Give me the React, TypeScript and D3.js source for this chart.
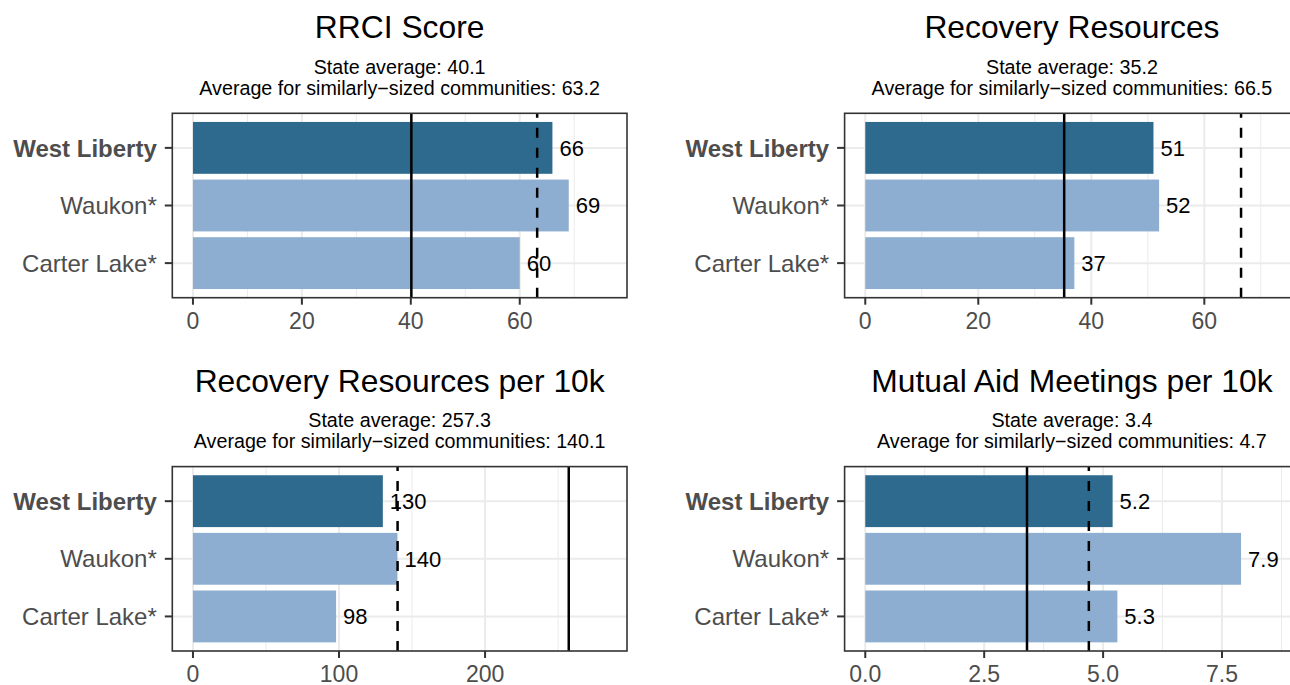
import React, { useEffect, useRef } from 'react';
import * as d3 from 'd3';

const communities = ['West Liberty', 'Waukon*', 'Carter Lake*'];
const highlighted = 'West Liberty';

const panelTitles = ['RRCI Score', 'Recovery Resources', 'Recovery Resources per 10k', 'Mutual Aid Meetings per 10k'];
const rrciScore = [66, 69, 60];
const recoveryResources = [51, 52, 37];
const resourcesPer10k = [130, 140, 98];
const meetingsPer10k = [5.2, 7.9, 5.3];
const stateAverage = [40.1, 35.2, 257.3, 3.4];
const similarAverage = [63.2, 66.5, 140.1, 4.7];
const tickValues = [[0, 20, 40, 60], [0, 20, 40, 60], [0, 100, 200], [0, 2.5, 5, 7.5]];
const tickLabels = [['0', '20', '40', '60'], ['0', '20', '40', '60'], ['0', '100', '200'], ['0.0', '2.5', '5.0', '7.5']];

const panelValues = [rrciScore, recoveryResources, resourcesPer10k, meetingsPer10k];

function App() {
    const chartRef = useRef(null);

    useEffect(() => {
        const width = 1290;
        const height = 685;
        const font = '"Liberation Sans", Arial, Helvetica, sans-serif';

        const svg = d3.select(chartRef.current)
            .append('svg')
            .attr('width', width)
            .attr('height', height)
            .style('display', 'block')
            .style('font-family', font);

        svg.append('rect').attr('width', width).attr('height', height).attr('fill', '#fff');

        // panel box in the top-left cell; other cells are shifted copies
        const boxLeft = 172.3, boxRight = 627, boxTop = 113.3, boxBottom = 297.7;
        const colShift = 672.3, rowShift = 353.3;

        panelValues.forEach((values, i) => {
            const dx = (i % 2) * colShift;
            const dy = Math.floor(i / 2) * rowShift;
            const g = svg.append('g').attr('transform', `translate(${dx}, ${dy})`);

            const limit = Math.max(...values, stateAverage[i], similarAverage[i]) * 1.1;
            const x = d3.scaleLinear()
                .domain([-0.05 * limit, 1.05 * limit])
                .range([boxLeft, boxRight]);
            const y = d3.scaleBand()
                .domain(communities)
                .range([boxTop, boxBottom])
                .paddingInner(0.1)
                .paddingOuter(0.15);

            const cx = (boxLeft + boxRight) / 2;
            g.append('text')
                .attr('x', cx).attr('y', 38.3)
                .attr('text-anchor', 'middle')
                .attr('font-size', 31.8)
                .attr('fill', '#000')
                .text(panelTitles[i]);
            g.append('text')
                .attr('x', cx).attr('y', 73.7)
                .attr('text-anchor', 'middle')
                .attr('font-size', 19.7)
                .text(`State average: ${stateAverage[i]}`);
            g.append('text')
                .attr('x', cx).attr('y', 95.2)
                .attr('text-anchor', 'middle')
                .attr('font-size', 19.7)
                .text(`Average for similarly\u2212sized communities: ${similarAverage[i]}`);

            const clipId = `clip-${i}`;
            g.append('clipPath').attr('id', clipId)
                .append('rect')
                .attr('x', boxLeft).attr('y', boxTop)
                .attr('width', boxRight - boxLeft).attr('height', boxBottom - boxTop);
            const plot = g.append('g').attr('clip-path', `url(#${clipId})`);

            // grid
            const ticks = tickValues[i];
            const step = ticks[1] - ticks[0];
            const minor: number[] = [];
            for (let v = ticks[0] - step / 2; v <= x.domain()[1]; v += step) {
                if (v >= x.domain()[0]) minor.push(v);
            }
            plot.selectAll('.minor').data(minor).enter().append('line')
                .attr('x1', d => x(d)).attr('x2', d => x(d))
                .attr('y1', boxTop).attr('y2', boxBottom)
                .attr('stroke', '#EBEBEB').attr('stroke-width', 1);
            plot.selectAll('.major').data(ticks).enter().append('line')
                .attr('x1', d => x(d)).attr('x2', d => x(d))
                .attr('y1', boxTop).attr('y2', boxBottom)
                .attr('stroke', '#EBEBEB').attr('stroke-width', 2);
            plot.selectAll('.hgrid').data(communities).enter().append('line')
                .attr('x1', boxLeft).attr('x2', boxRight)
                .attr('y1', d => y(d) + y.bandwidth() / 2)
                .attr('y2', d => y(d) + y.bandwidth() / 2)
                .attr('stroke', '#EBEBEB').attr('stroke-width', 2);

            // bars
            plot.selectAll('.bar').data(communities).enter().append('rect')
                .attr('x', x(0))
                .attr('y', d => y(d))
                .attr('width', (d, j) => x(values[j]) - x(0))
                .attr('height', y.bandwidth())
                .attr('fill', d => d === highlighted ? '#2E6A8E' : '#8DAED1');

            // reference lines
            plot.append('line')
                .attr('x1', x(stateAverage[i])).attr('x2', x(stateAverage[i]))
                .attr('y1', boxTop).attr('y2', boxBottom)
                .attr('stroke', '#000').attr('stroke-width', 2.5);
            plot.append('line')
                .attr('x1', x(similarAverage[i])).attr('x2', x(similarAverage[i]))
                .attr('y1', boxBottom).attr('y2', boxTop)
                .attr('stroke', '#000').attr('stroke-width', 2.5)
                .attr('stroke-dasharray', '10,10');

            // value labels
            plot.selectAll('.val').data(communities).enter().append('text')
                .attr('x', (d, j) => x(values[j]) + 7)
                .attr('y', d => y(d) + y.bandwidth() / 2)
                .attr('dy', '0.36em')
                .attr('font-size', 22)
                .attr('fill', '#000')
                .text((d, j) => String(values[j]));

            // border
            g.append('rect')
                .attr('x', boxLeft).attr('y', boxTop)
                .attr('width', boxRight - boxLeft).attr('height', boxBottom - boxTop)
                .attr('fill', 'none').attr('stroke', '#333333').attr('stroke-width', 1.6);

            // y axis
            g.selectAll('.ytick').data(communities).enter().append('line')
                .attr('x1', boxLeft - 7.5).attr('x2', boxLeft)
                .attr('y1', d => y(d) + y.bandwidth() / 2)
                .attr('y2', d => y(d) + y.bandwidth() / 2)
                .attr('stroke', '#333333').attr('stroke-width', 2);
            g.selectAll('.ylab').data(communities).enter().append('text')
                .attr('x', boxLeft - 15.5)
                .attr('y', d => y(d) + y.bandwidth() / 2)
                .attr('dy', '0.36em')
                .attr('text-anchor', 'end')
                .attr('font-size', 24)
                .attr('font-weight', d => d === highlighted ? 'bold' : 'normal')
                .attr('fill', '#4D4D4D')
                .text(d => d);

            // x axis
            g.selectAll('.xtick').data(ticks).enter().append('line')
                .attr('x1', d => x(d)).attr('x2', d => x(d))
                .attr('y1', boxBottom).attr('y2', boxBottom + 7)
                .attr('stroke', '#333333').attr('stroke-width', 2);
            g.selectAll('.xlab').data(ticks).enter().append('text')
                .attr('x', d => x(d))
                .attr('y', 329)
                .attr('text-anchor', 'middle')
                .attr('font-size', 23)
                .attr('fill', '#4D4D4D')
                .text((d, j) => tickLabels[i][j]);
        });

        return () => {
            d3.select(chartRef.current).select('svg').remove();
        };
    }, []);

    return (
        <div style={{ position: 'absolute', left: 0, top: 0, width: '1290px', height: '685px', overflow: 'hidden' }}>
            <div ref={chartRef}></div>
        </div>
    );
}

export default App;
